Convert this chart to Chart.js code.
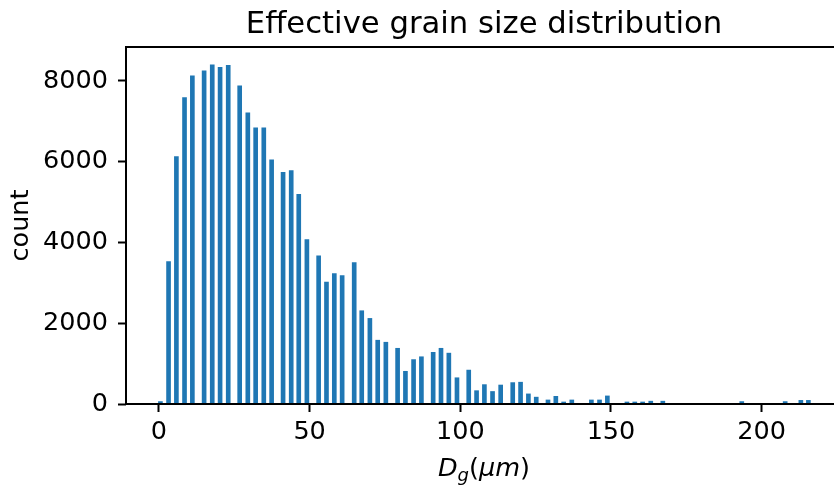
<!DOCTYPE html>
<html>
<head>
<meta charset="utf-8">
<script src="https://cdn.jsdelivr.net/npm/chart.js@4.4.1/dist/chart.umd.min.js"></script>
<style>
  html, body { margin: 0; padding: 0; background: #fff; }
  #wrap { width: 834px; height: 488px; }
</style>
</head>
<body>
<div id="wrap"><canvas id="c" width="834" height="488"></canvas></div>
<script>
// ---- data ----
const binCenters = [0.5, 3.2, 5.8, 8.5, 11.1, 15.0, 17.7, 20.3, 23.0, 26.8, 29.5, 32.1, 34.8, 37.4,
  41.2, 43.9, 46.4, 49.1, 53.0, 55.6, 58.2, 60.8, 64.8, 67.3, 70.0, 72.6, 75.3, 79.2, 81.8, 84.5, 87.1,
  91.0, 93.6, 96.2, 98.9, 102.8, 105.4, 108.0, 110.7, 113.4, 117.4, 120.0, 122.6, 125.2, 129.1, 131.7,
  134.3, 137.0, 143.5, 146.2, 148.8, 155.3, 157.9, 160.5, 163.2, 167.2, 193.4, 207.8, 213.0, 215.5];
const counts = [60, 3530, 6130, 7590, 8130, 8250, 8400, 8340, 8390, 7880, 7210, 6840, 6840, 6050,
  5740, 5780, 5190, 4070, 3670, 3020, 3230, 3180, 3500, 2310, 2120, 1580, 1530, 1380, 810, 1100, 1170,
  1280, 1380, 1260, 650, 840, 330, 480, 310, 470, 530, 540, 250, 170, 100, 190,
  50, 100, 100, 100, 200, 50, 50, 50, 70, 70, 60, 60, 90, 90];
const xTicks = [0, 50, 100, 150, 200];
const yTicks = [0, 2000, 4000, 6000, 8000];
const titleText = 'Effective grain size distribution';
const yTitle = 'count';

const FONT = '"DejaVu Sans", sans-serif';
const TICK_SIZE = 25.5;

const framePlugin = {
  id: 'frame',
  afterDraw(chart) {
    const {ctx, chartArea: a} = chart;
    ctx.save();
    ctx.strokeStyle = '#000';
    ctx.lineWidth = 2;
    ctx.beginPath();
    ctx.moveTo(a.right + 2, a.top);
    ctx.lineTo(a.left, a.top);
    ctx.lineTo(a.left, a.bottom);
    ctx.lineTo(a.right + 2, a.bottom);
    ctx.stroke();
    // title (the original axes box extends slightly past the picture's right edge)
    const cx = (a.left + a.right + 8) / 2;
    ctx.fillStyle = '#000';
    ctx.font = '30.7px ' + FONT;
    ctx.textAlign = 'center';
    ctx.textBaseline = 'alphabetic';
    ctx.fillText(titleText, cx, 33);
    // x-axis title: D_g(μm) in math italic style
    const big = TICK_SIZE + 'px ' + FONT;
    const bigI = 'oblique ' + TICK_SIZE + 'px ' + FONT;
    const small = 'oblique 18px ' + FONT;
    const parts = [
      {t: 'D', f: bigI, dy: 0},
      {t: 'g', f: small, dy: 5},
      {t: '(', f: big, dy: 0},
      {t: 'μm', f: bigI, dy: 0},
      {t: ')', f: big, dy: 0}
    ];
    let w = 0;
    parts.forEach(p => { ctx.font = p.f; p.w = ctx.measureText(p.t).width; w += p.w; });
    let x = cx - w / 2;
    const base = 476;
    ctx.textAlign = 'left';
    parts.forEach(p => { ctx.font = p.f; ctx.fillText(p.t, x, base + p.dy); x += p.w; });
    ctx.restore();
  }
};

new Chart(document.getElementById('c'), {
  type: 'bar',
  data: {
    datasets: [{
      data: binCenters.map((x, i) => ({x: x, y: counts[i]})),
      backgroundColor: '#1f77b4',
      borderWidth: 0,
      barThickness: 4
    }]
  },
  options: {
    responsive: false,
    animation: false,
    devicePixelRatio: 1,
    layout: { padding: { top: 47, left: 0, right: 0, bottom: 0 } },
    plugins: { legend: { display: false }, title: { display: false }, tooltip: { enabled: false } },
    scales: {
      x: {
        type: 'linear',
        min: -10.92,
        max: 224.0,
        offset: false,
        afterBuildTicks: s => { s.ticks = xTicks.map(v => ({value: v})); },
        afterFit: s => { s.height = 84; },
        grid: { display: true, offset: false, drawOnChartArea: false, drawTicks: true, tickLength: 8, tickWidth: 2, tickColor: '#000' },
        border: { display: false },
        ticks: { color: '#000', font: { family: FONT, size: TICK_SIZE }, padding: 5, maxRotation: 0, autoSkip: false,
                 callback: v => String(v) }
      },
      y: {
        type: 'linear',
        min: 0,
        max: 8842,
        afterBuildTicks: s => { s.ticks = yTicks.map(v => ({value: v})); },
        afterFit: s => { s.width = 126; },
        grid: { display: true, offset: false, drawOnChartArea: false, drawTicks: true, tickLength: 8, tickWidth: 2, tickColor: '#000' },
        border: { display: false },
        ticks: { color: '#000', font: { family: FONT, size: TICK_SIZE }, padding: 10, autoSkip: false,
                 callback: v => String(v) },
        title: { display: true, text: yTitle, color: '#000', font: { family: FONT, size: TICK_SIZE }, padding: { top: 6, bottom: 0 } }
      }
    }
  },
  plugins: [framePlugin]
});
</script>
</body>
</html>
